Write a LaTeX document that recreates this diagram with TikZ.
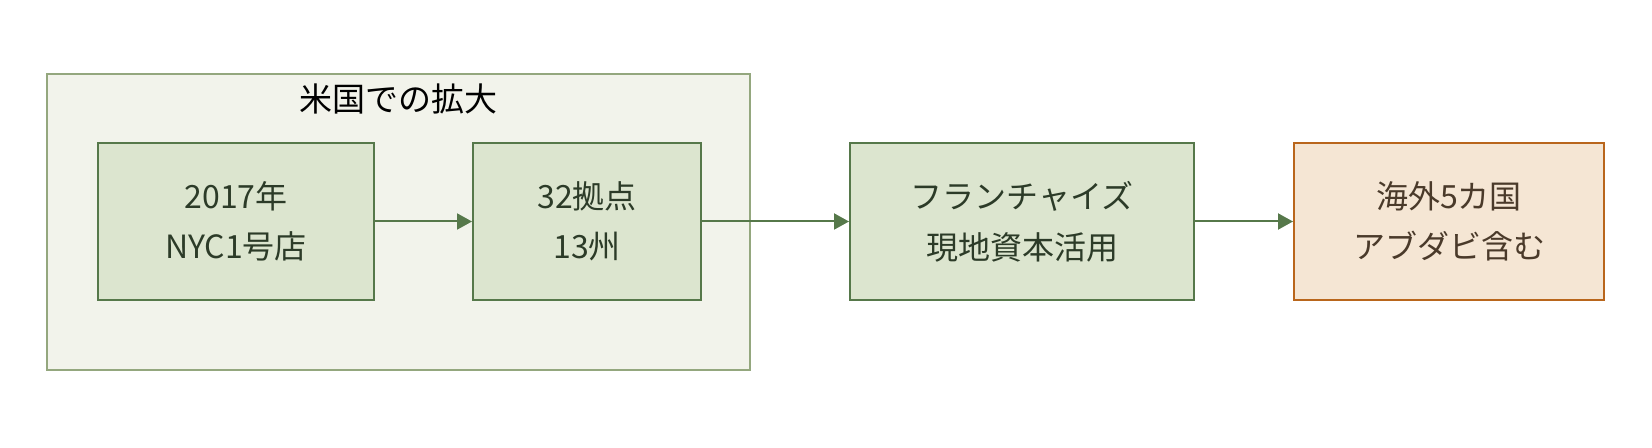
\documentclass[tikz,border=0pt]{standalone}
\usepackage{fontspec}
\setmainfont{Noto Sans CJK JP}
\usetikzlibrary{arrows.meta}
\definecolor{grpfill}{HTML}{F2F3EB}
\definecolor{grpline}{HTML}{94A77E}
\definecolor{boxfill}{HTML}{DCE5CF}
\definecolor{boxline}{HTML}{56784A}
\definecolor{boxtext}{HTML}{2C3B28}
\definecolor{endfill}{HTML}{F5E6D4}
\definecolor{endline}{HTML}{B9661C}
\definecolor{endtext}{HTML}{4A3A2A}

\begin{document}
\begin{tikzpicture}[x=0.5pt,y=-0.5pt,
	stepbox/.style={draw=boxline,fill=boxfill,line width=1pt,text=boxtext,align=center,
		font=\fontsize{16}{25.3}\selectfont,minimum height=78.5pt,inner sep=0pt},
	endbox/.style={stepbox,draw=endline,fill=endfill,text=endtext},
	flow/.style={draw=boxline,line width=1pt,-{Triangle[length=7.5pt,width=8pt]}}]
			\useasboundingbox (0,0) rectangle (1652,448);
			\node [draw=grpline,fill=grpfill,line width=1pt,minimum width=351.5pt,minimum height=148pt] (usa) at (398.5,222) {};
			\node [font=\fontsize{16.5}{19}\selectfont] (usatitle) at (398.5,99) {米国での拡大};
			\node [stepbox,minimum width=138pt] (nyc) at (236,221.5) {2017年\\NYC1号店};
			\node [stepbox,minimum width=114pt] (kyoten) at (587,221.5) {32拠点\\13州};
			\node [stepbox,minimum width=172pt] (fc) at (1022,221.5) {フランチャイズ\\現地資本活用};
			\node [endbox,minimum width=155pt] (kaigai) at (1449,221.5) {海外5カ国\\アブダビ含む};
			\draw [flow] (nyc) -- (kyoten);
			\draw [flow] (kyoten) -- (fc);
			\draw [flow] (fc) -- (kaigai);
		\end{tikzpicture}
\end{document}
